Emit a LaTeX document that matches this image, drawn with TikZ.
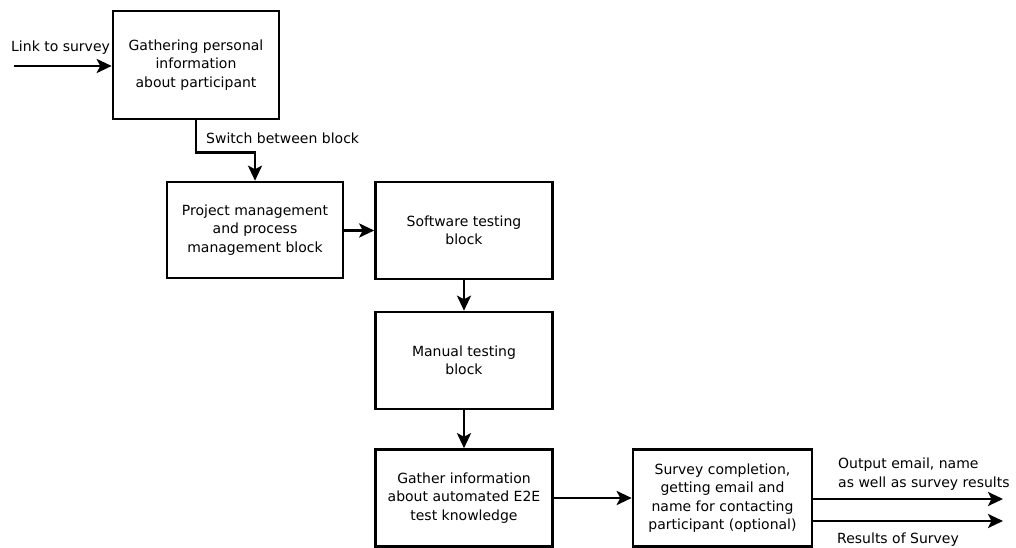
\documentclass[tikz,border=0pt]{standalone}
\usepackage{fontspec}
\setmainfont{DejaVu Sans}
\usetikzlibrary{arrows.meta}
\begin{document}
\begin{tikzpicture}[x=1pt,y=-1pt,
  font=\fontsize{14}{18.3}\selectfont,
  block/.style={draw=black,line width=2.6pt,rectangle,align=center,inner sep=0pt},
  flow/.style={line width=2.6pt,-{Stealth[length=15pt,width=14pt,inset=3.5pt]}},
  lbl/.style={inner sep=0pt,align=left}]
\useasboundingbox (0,0) rectangle (1016,548);

% blocks
\node[block,minimum width=166pt,minimum height=108pt] (gather) at (196,65)
  {Gathering personal\\information\\about participant};
\node[block,minimum width=176pt,minimum height=96pt] (pm) at (255,230)
  {Project management\\and process\\management block};
\node[block,minimum width=177pt,minimum height=97pt] (soft) at (464,230.5)
  {Software testing\\block};
\node[block,minimum width=177pt,minimum height=97pt] (manual) at (464,360.5)
  {Manual testing\\block};
\node[block,minimum width=177pt,minimum height=97pt] (e2e) at (464,498)
  {Gather information\\about automated E2E\\test knowledge};
\node[block,minimum width=179pt,minimum height=97pt] (done) at (722.5,498)
  {Survey completion,\\getting email and\\name for contacting\\participant (optional)};

% free ends
\coordinate (start) at (14,66);
\coordinate (outA) at (1003,499);
\coordinate (outB) at (1003,521);

% connectors
\draw[flow] (start) -- (gather.west |- start);
\draw[flow] (gather.south) -- ++(0,32) -| (pm.north);
\draw[flow] (pm.east |- soft.west) -- (soft.west);
\draw[flow] (soft.south) -- (manual.north);
\draw[flow] (manual.south) -- (e2e.north);
\draw[flow] (e2e.east) -- (done.west);
\draw[flow] (done.east |- outA) -- (outA);
\draw[flow] (done.east |- outB) -- (outB);

% labels
\node[lbl,anchor=west] (lnk) at (11,48) {Link to survey};
\node[lbl,anchor=west] (sw) at (206,138) {Switch between block};
\node[lbl,anchor=west] (outlbl) at (838,474) {Output email, name\\as well as survey results};
\node[lbl,anchor=west] (reslbl) at (837,540) {Results of Survey};
\end{tikzpicture}
\end{document}
